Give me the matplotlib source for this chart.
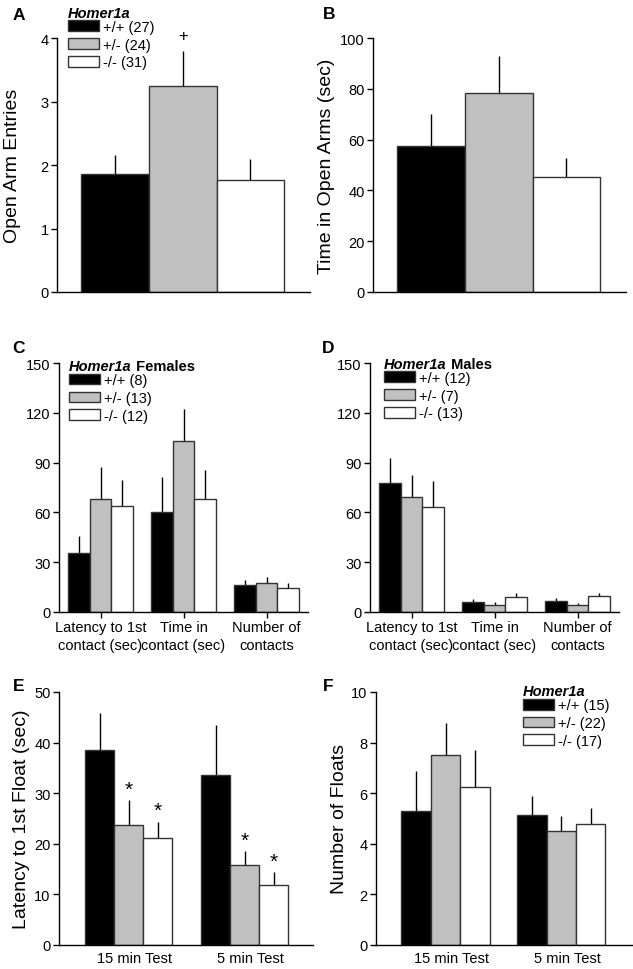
import matplotlib
matplotlib.use("Agg")
import matplotlib.pyplot as plt
import matplotlib.transforms as mtransforms
from matplotlib.patches import Patch
import numpy as np

plt.rcParams['font.family'] = ['Liberation Sans', 'DejaVu Sans']

# ---------------- data ----------------
genotypes = ['+/+', '+/-', '-/-']
colors = ['#000000', '#c0c0c0', '#ffffff']

# A: open arm entries
a_n = [27, 24, 31]
a_mean = [1.86, 3.25, 1.77]
a_sem = [0.30, 0.54, 0.32]

# B: time in open arms (sec)
b_mean = [57.4, 78.2, 45.4]
b_sem = [12.8, 14.6, 7.2]

# C/D: social interaction
cd_categories = ['Latency to 1st\ncontact (sec)', 'Time in\ncontact (sec)', 'Number of\ncontacts']
c_n = [8, 13, 12]
c_mean = [[35.5, 60.2, 16.1], [68.3, 103.0, 17.7], [63.9, 67.9, 14.5]]
c_sem = [[10.3, 21.1, 3.2], [19.0, 19.5, 3.2], [15.4, 17.4, 3.0]]
d_n = [12, 7, 13]
d_mean = [[77.5, 5.8, 6.8], [69.1, 4.2, 4.2], [63.1, 9.2, 9.6]]
d_sem = [[15.5, 2.2, 1.6], [13.4, 2.0, 1.2], [16.0, 2.4, 1.6]]

# E/F: forced swim
ef_categories = ['15 min Test', '5 min Test']
e_mean = [[38.6, 33.5], [23.7, 15.8], [21.1, 11.9]]
e_sem = [[7.2, 10.0], [4.9, 2.8], [3.3, 2.5]]
e_sig = [[False, False], [True, True], [True, True]]
f_n = [15, 22, 17]
f_mean = [[5.28, 5.15], [7.51, 4.50], [6.24, 4.78]]
f_sem = [[1.59, 0.73], [1.28, 0.59], [1.48, 0.63]]

# ---------------- layout ----------------
W, H = 633, 970
fig = plt.figure(figsize=(W / 100, H / 100), dpi=100)

def add_ax(left, right, top, bottom):
    return fig.add_axes([left / W, 1 - bottom / H, (right - left) / W, (bottom - top) / H])

EDGE = '#333333'
TICK_FS = 10.5
LAB_FS = 14
LEG_FS = 10.5

def style(ax):
    for s in ['top', 'right']:
        ax.spines[s].set_visible(False)
    for s in ['left', 'bottom']:
        ax.spines[s].set_linewidth(1.0)
    ax.tick_params(axis='y', direction='out', length=4, width=1, pad=2, labelsize=TICK_FS)
    ax.tick_params(axis='x', labelsize=TICK_FS)

def errs(ax, x, m, s):
    ax.vlines(x, m, np.asarray(m) + np.asarray(s), color='black', lw=1.0, zorder=1)

def legend(ax, ns, x, y, title):
    handles = [Patch(facecolor=c, edgecolor=EDGE, linewidth=1.0) for c in colors]
    labels = [f'{g} ({n})' for g, n in zip(genotypes, ns)]
    leg = ax.legend(handles, labels, loc='upper left', bbox_to_anchor=(x, y),
                    frameon=False, fontsize=LEG_FS, handlelength=2.1, handleheight=0.75,
                    handletextpad=0.3, labelspacing=0.26, borderpad=0, borderaxespad=0)
    t = ax.annotate('Homer1a', xy=(0, 1), xycoords=leg, xytext=(0, 0), textcoords='offset points',
                    va='bottom', ha='left', fontsize=LEG_FS, fontweight='bold', fontstyle='italic',
                    zorder=10)
    if title:
        ax.annotate(' ' + title, xy=(1, 0), xycoords=t, va='bottom', ha='left',
                    fontsize=LEG_FS, fontweight='bold', zorder=10)
    return leg

def simple_panel(ax, means, sems, ylim, yticks):
    x = np.arange(len(means))
    ax.bar(x, means, width=1.0, color=colors, edgecolor=EDGE, linewidth=1.0, zorder=2)
    errs(ax, x, means, sems)
    ax.set_xlim(-0.86, 2.88)
    ax.set_ylim(*ylim)
    ax.set_yticks(yticks)
    ax.set_xticks([])
    style(ax)
    return x

def grouped_panel(ax, means, sems, w, xlim, ylim, yticks, cats):
    ng = len(cats)
    g = np.arange(ng)
    for i in range(3):
        xs = g + (i - 1) * w
        ax.bar(xs, means[i], width=w, color=colors[i], edgecolor=EDGE, linewidth=1.0, zorder=2)
        errs(ax, xs, means[i], sems[i])
    ax.set_xlim(*xlim)
    ax.set_ylim(*ylim)
    ax.set_yticks(yticks)
    ax.set_xticks(g)
    ax.set_xticklabels(cats)
    style(ax)

# A
axA = add_ax(57, 310, 39, 293)
xa = simple_panel(axA, a_mean, a_sem, (0, 4), [0, 1, 2, 3, 4])
axA.set_ylabel('Open Arm Entries', fontsize=LAB_FS)
axA.yaxis.set_label_coords(-0.142, 0.5)
axA.annotate('+', xy=(xa[1], a_mean[1] + a_sem[1]), xytext=(0, 6), textcoords='offset points',
             ha='center', va='bottom', fontsize=12)
legend(axA, a_n, 0.0435, 1.0717, None)

# B
axB = add_ax(373, 626, 39, 293)
simple_panel(axB, b_mean, b_sem, (0, 100), [0, 20, 40, 60, 80, 100])
axB.set_ylabel('Time in Open Arms (sec)', fontsize=LAB_FS)
axB.yaxis.set_label_coords(-0.150, 0.5)

# C
axC = add_ax(59, 308, 364, 613)
grouped_panel(axC, c_mean, c_sem, 0.265, (-0.5, 2.5), (0, 150), [0, 30, 60, 90, 120, 150], cd_categories)
axC.tick_params(axis='x', direction='out', length=4, width=1, pad=2)
for t in axC.get_xticklabels():
    t.set_linespacing(1.3)
legend(axC, c_n, 0.04, 0.959, 'Females')

# D
axD = add_ax(370, 619, 364, 613)
grouped_panel(axD, d_mean, d_sem, 0.265, (-0.5, 2.5), (0, 150), [0, 30, 60, 90, 120, 150], cd_categories)
axD.tick_params(axis='x', direction='out', length=4, width=1, pad=2)
for t in axD.get_xticklabels():
    t.set_linespacing(1.3)
legend(axD, d_n, 0.056, 0.969, 'Males')

# E
axE = add_ax(59, 313, 693, 946)
grouped_panel(axE, e_mean, e_sem, 0.25, (-0.6, 1.59), (0, 50), [0, 10, 20, 30, 40, 50], ef_categories)
axE.tick_params(axis='x', length=0, pad=4)
axE.set_ylabel('Latency to 1st Float (sec)', fontsize=LAB_FS)
axE.yaxis.set_label_coords(-0.114, 0.5)
for i in range(3):
    for j in range(2):
        if e_sig[i][j]:
            axE.annotate('*', xy=(j + (i - 1) * 0.25, e_mean[i][j] + e_sem[i][j]), xytext=(0, 1),
                         textcoords='offset points', ha='center', va='bottom', fontsize=15)

# F
axF = add_ax(376, 632, 693, 946)
grouped_panel(axF, f_mean, f_sem, 0.254, (-0.6, 1.61), (0, 10), [0, 2, 4, 6, 8, 10], ef_categories)
axF.tick_params(axis='x', length=0, pad=4)
axF.set_ylabel('Number of Floats', fontsize=LAB_FS)
axF.yaxis.set_label_coords(-0.109, 0.5)
legend(axF, f_n, 0.574, 0.975, None)

off = mtransforms.ScaledTranslation(6 / 100, 0, fig.dpi_scale_trans)
for ax in (axE, axF):
    for t in ax.get_xticklabels():
        t.set_transform(t.get_transform() + off)

# panel letters
for letter, px, py in [('A', 13, 20), ('B', 323, 19), ('C', 12, 353), ('D', 322, 353),
                       ('E', 13, 691), ('F', 323, 691)]:
    fig.text(px / W, 1 - py / H, letter, fontsize=12.5, fontweight='bold', ha='left', va='baseline')

fig.savefig('out.png', dpi=100)
